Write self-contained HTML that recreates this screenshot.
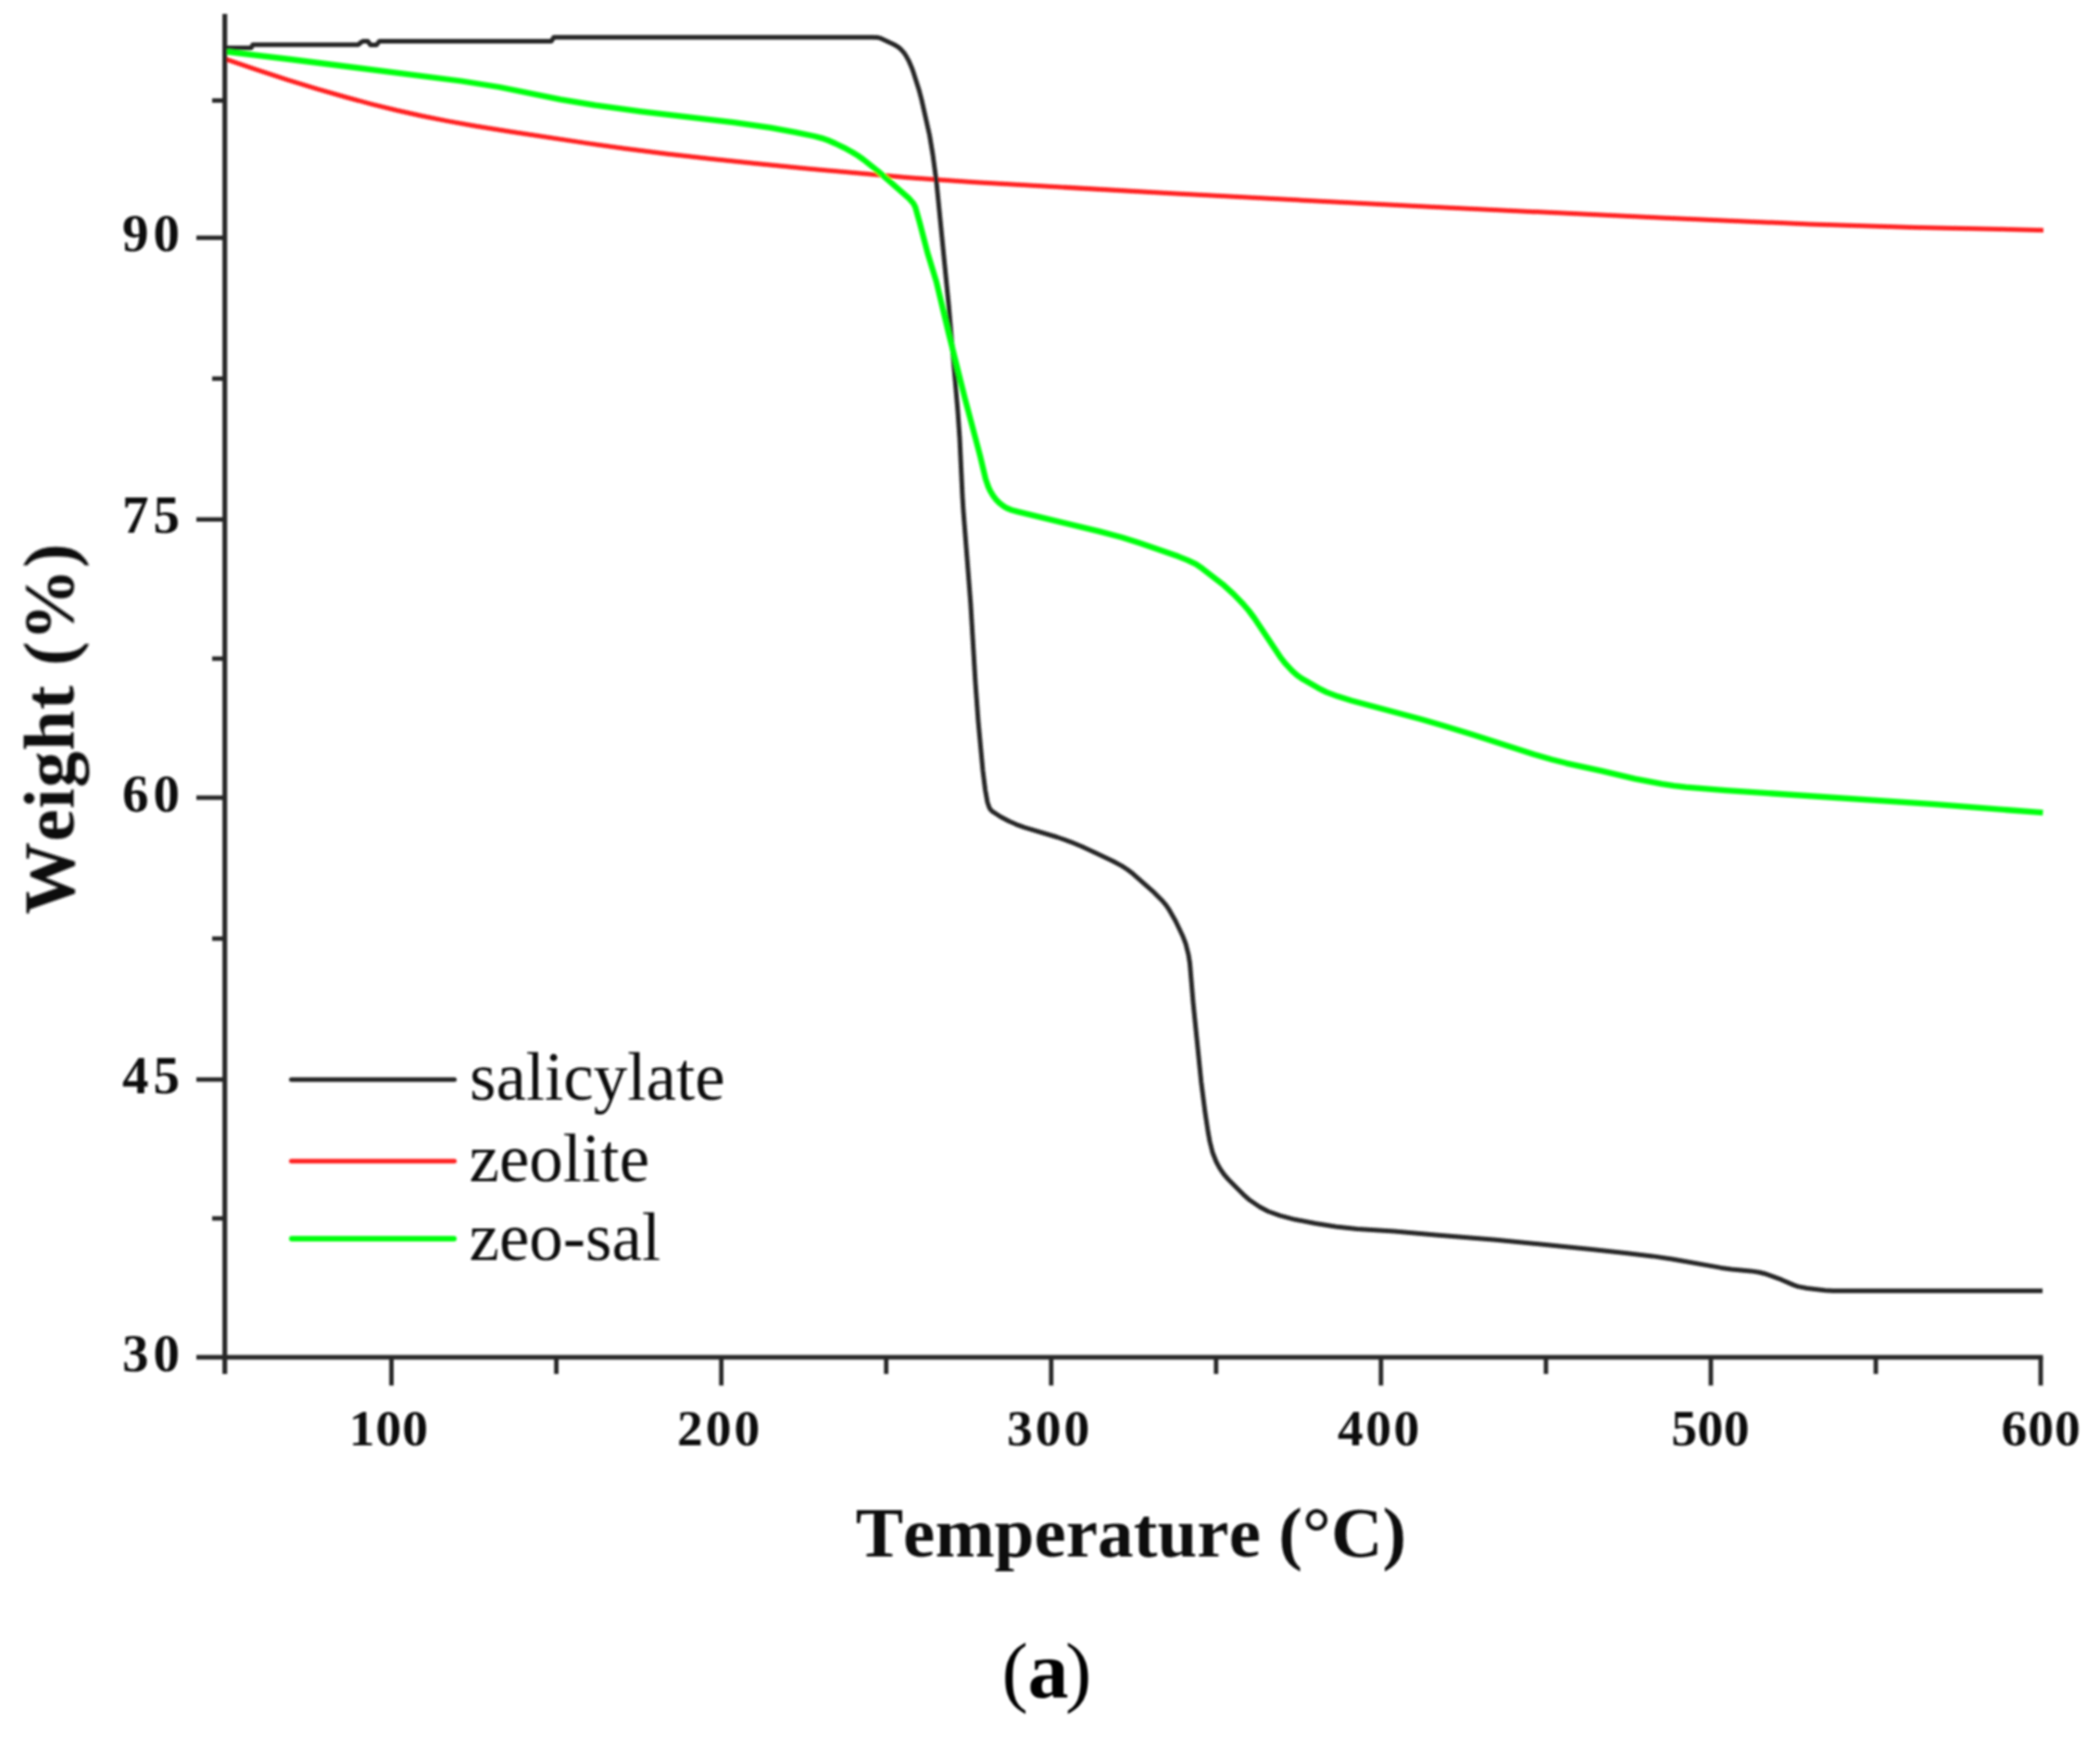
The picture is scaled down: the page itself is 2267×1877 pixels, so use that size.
<!DOCTYPE html>
<html lang="en"><head><meta charset="utf-8"><title>TGA curves</title>
<style>html,body{margin:0;padding:0;background:#fff}svg{display:block}</style></head>
<body>
<svg width="2267" height="1877" viewBox="0 0 2267 1877">
<defs><filter id="soft" x="0" y="0" width="100%" height="100%" filterUnits="userSpaceOnUse"><feGaussianBlur stdDeviation="0.9"/></filter></defs>
<rect width="2267" height="1877" fill="#fff"/>
<g filter="url(#soft)">
<path d="M243.0,63.7L276.0,74.9L311.0,86.3L342.0,95.9L372.0,104.5L401.0,112.3L428.0,119.0L456.0,125.2L483.0,130.6L513.0,136.0L552.0,142.2L634.0,154.6L674.0,160.2L719.0,165.9L768.0,171.6L816.0,176.6L869.0,181.8L981.0,191.7L1053.0,196.7L1265.0,208.8L1534.0,222.7L1792.0,235.1L1953.0,241.9L2067.0,245.5L2205.9,248.4" fill="none" stroke="#ff2222" stroke-width="5" stroke-linejoin="round"/>
<path d="M243.0,51.7L271.0,51.7L273.0,48.3L386.0,48.3L387.0,48.0L390.0,45.5L392.0,44.5L397.0,44.5L400.0,48.5L406.0,48.5L407.0,47.9L409.0,45.1L410.0,44.5L595.0,44.5L598.0,40.2L942.0,40.2L948.0,40.6L951.0,41.4L965.0,48.0L969.0,50.3L972.0,52.7L976.0,57.2L978.0,60.1L981.0,65.6L984.0,72.4L986.0,77.9L992.0,96.7L995.0,108.1L1003.5,146.0L1007.0,167.0L1011.0,197.0L1024.0,327.8L1034.0,444.4L1036.0,473.0L1039.0,536.0L1040.0,551.7L1047.8,651.0L1053.0,737.1L1056.0,778.3L1061.0,831.8L1063.6,852.6L1066.0,866.0L1068.0,871.8L1069.0,873.5L1071.0,875.6L1080.0,881.5L1089.0,886.3L1097.0,889.8L1106.0,893.1L1141.0,903.5L1156.0,908.8L1168.0,913.8L1182.0,920.2L1202.0,929.7L1211.0,934.6L1217.0,938.5L1223.0,943.1L1246.0,963.4L1255.0,972.5L1259.0,977.4L1262.0,981.7L1269.0,994.0L1277.0,1010.8L1280.0,1018.7L1283.0,1030.5L1284.5,1040.0L1288.0,1081.8L1296.7,1167.6L1301.0,1201.2L1304.0,1221.0L1306.0,1232.0L1309.0,1244.0L1313.0,1254.0L1316.0,1259.6L1319.0,1264.3L1322.0,1268.4L1326.0,1273.0L1342.0,1289.1L1349.0,1295.3L1360.0,1302.8L1369.0,1307.5L1382.0,1312.1L1398.0,1316.3L1420.0,1320.5L1442.0,1324.0L1465.0,1326.5L1505.0,1328.9L1550.0,1333.0L1615.0,1338.2L1718.0,1348.5L1757.0,1352.7L1784.0,1355.9L1805.0,1359.0L1858.0,1368.4L1869.0,1369.9L1890.0,1371.9L1899.0,1373.2L1905.0,1374.7L1912.0,1377.1L1923.0,1381.2L1936.0,1386.9L1941.0,1388.6L1951.0,1390.5L1970.0,1392.8L1978.5,1393.2L2205.0,1393.2" fill="none" stroke="#282828" stroke-width="5" stroke-linejoin="round"/>
<path d="M243.0,55.7L313.0,64.0L498.0,87.5L539.0,94.0L605.0,107.3L643.0,113.7L692.0,120.4L792.0,132.2L832.0,137.9L859.0,142.8L879.0,147.0L887.0,149.1L894.0,151.5L902.0,155.0L911.0,159.3L920.0,164.2L926.0,167.9L932.0,172.1L948.0,184.9L981.0,213.9L986.0,219.5L988.0,223.2L993.0,240.9L1001.2,272.5L1011.0,304.7L1024.0,359.3L1042.0,431.3L1058.0,491.8L1064.0,517.0L1067.0,525.6L1069.0,529.9L1072.0,534.9L1075.0,538.9L1079.0,542.9L1084.0,546.8L1087.0,548.5L1092.0,550.5L1099.0,552.4L1187.0,573.6L1211.0,580.0L1230.0,586.1L1272.0,600.6L1282.0,604.6L1291.0,608.9L1298.0,613.7L1320.0,630.7L1332.0,641.6L1342.0,652.0L1348.0,659.0L1354.0,667.0L1383.0,710.4L1388.0,716.7L1395.0,724.2L1400.0,728.6L1406.0,732.8L1423.0,742.6L1432.0,747.1L1444.0,751.6L1459.0,756.2L1533.0,776.0L1558.0,783.2L1590.0,793.0L1656.0,814.2L1675.0,819.8L1691.0,823.8L1729.0,832.1L1765.0,840.6L1794.0,846.1L1807.0,848.1L1820.0,849.6L1863.0,853.1L2089.0,868.2L2205.4,877.2" fill="none" stroke="#00ff10" stroke-width="6.3" stroke-linejoin="round"/>
<g stroke="#282828" stroke-width="5.2" fill="none">
<line x1="242.7" y1="15" x2="242.7" y2="1483"/>
<line x1="212" y1="1465.0" x2="2205.4" y2="1465.0"/>
<line x1="212" y1="1165.2" x2="242.7" y2="1165.2" stroke-width="4.8"/>
<line x1="212" y1="861.0" x2="242.7" y2="861.0" stroke-width="4.8"/>
<line x1="212" y1="560.7" x2="242.7" y2="560.7" stroke-width="4.8"/>
<line x1="212" y1="256.7" x2="242.7" y2="256.7" stroke-width="4.8"/>
<line x1="229" y1="1315.1" x2="242.7" y2="1315.1" stroke-width="4.8"/>
<line x1="229" y1="1013.1" x2="242.7" y2="1013.1" stroke-width="4.8"/>
<line x1="229" y1="710.9" x2="242.7" y2="710.9" stroke-width="4.8"/>
<line x1="229" y1="408.7" x2="242.7" y2="408.7" stroke-width="4.8"/>
<line x1="229" y1="108.5" x2="242.7" y2="108.5" stroke-width="4.8"/>
<line x1="422.6" y1="1465.0" x2="422.6" y2="1495.5" stroke-width="4.8"/>
<line x1="778.7" y1="1465.0" x2="778.7" y2="1495.5" stroke-width="4.8"/>
<line x1="1134.8" y1="1465.0" x2="1134.8" y2="1495.5" stroke-width="4.8"/>
<line x1="1490.8" y1="1465.0" x2="1490.8" y2="1495.5" stroke-width="4.8"/>
<line x1="1846.9" y1="1465.0" x2="1846.9" y2="1495.5" stroke-width="4.8"/>
<line x1="2203.0" y1="1465.0" x2="2203.0" y2="1495.5" stroke-width="4.8"/>
<line x1="600.6" y1="1465.0" x2="600.6" y2="1483" stroke-width="4.8"/>
<line x1="956.7" y1="1465.0" x2="956.7" y2="1483" stroke-width="4.8"/>
<line x1="1312.8" y1="1465.0" x2="1312.8" y2="1483" stroke-width="4.8"/>
<line x1="1668.9" y1="1465.0" x2="1668.9" y2="1483" stroke-width="4.8"/>
<line x1="2025.0" y1="1465.0" x2="2025.0" y2="1483" stroke-width="4.8"/>
</g>
<g font-family="'Liberation Serif', serif" font-weight="bold" font-size="57" fill="#111">
<text x="199" y="1479.6" text-anchor="end" letter-spacing="5">30</text>
<text x="199" y="1179.8" text-anchor="end" letter-spacing="5">45</text>
<text x="199" y="875.6" text-anchor="end" letter-spacing="5">60</text>
<text x="199" y="575.3" text-anchor="end" letter-spacing="5">75</text>
<text x="199" y="271.3" text-anchor="end" letter-spacing="5">90</text>
</g>
<g font-family="'Liberation Serif', serif" font-weight="bold" font-size="55.5" fill="#111">
<text x="419.9" y="1560" text-anchor="middle" letter-spacing="1">100</text>
<text x="777.1" y="1560" text-anchor="middle" letter-spacing="3">200</text>
<text x="1133.0" y="1560" text-anchor="middle" letter-spacing="3">300</text>
<text x="1489.3" y="1560" text-anchor="middle" letter-spacing="2.5">400</text>
<text x="1846.7" y="1560" text-anchor="middle" letter-spacing="0.5">500</text>
<text x="2203.7" y="1560" text-anchor="middle" letter-spacing="1">600</text>
</g>
<text x="1221" y="1680" text-anchor="middle" font-family="'Liberation Serif', serif" font-weight="bold" font-size="77" letter-spacing="0.1" style="font-kerning:none" fill="#111">Temperature (°C)</text>
<text transform="translate(79.5,786.5) rotate(-90)" text-anchor="middle" font-family="'Liberation Serif', serif" font-weight="bold" font-size="78" letter-spacing="0.9" style="font-kerning:none" fill="#111">Weight (%)</text>
<line x1="314.5" y1="1165.2" x2="490.5" y2="1165.2" stroke="#282828" stroke-width="5" stroke-linecap="round"/>
<line x1="314.5" y1="1253.3" x2="490.5" y2="1253.3" stroke="#ff2222" stroke-width="5" stroke-linecap="round"/>
<line x1="315" y1="1337" x2="490" y2="1337" stroke="#00ff10" stroke-width="6" stroke-linecap="round"/>
<g font-family="'Liberation Serif', serif" font-size="73" fill="#111">
<text x="507" y="1187">salicylate</text>
<text x="506.5" y="1275">zeolite</text>
<text x="506.5" y="1360">zeo-sal</text>
</g>
<text y="1832" font-family="'Liberation Serif', serif" font-size="85" fill="#000"><tspan x="1081.5">(</tspan><tspan x="1109.5" font-weight="bold" font-size="88">a</tspan><tspan x="1150">)</tspan></text>
</g>
</svg>
</body></html>
